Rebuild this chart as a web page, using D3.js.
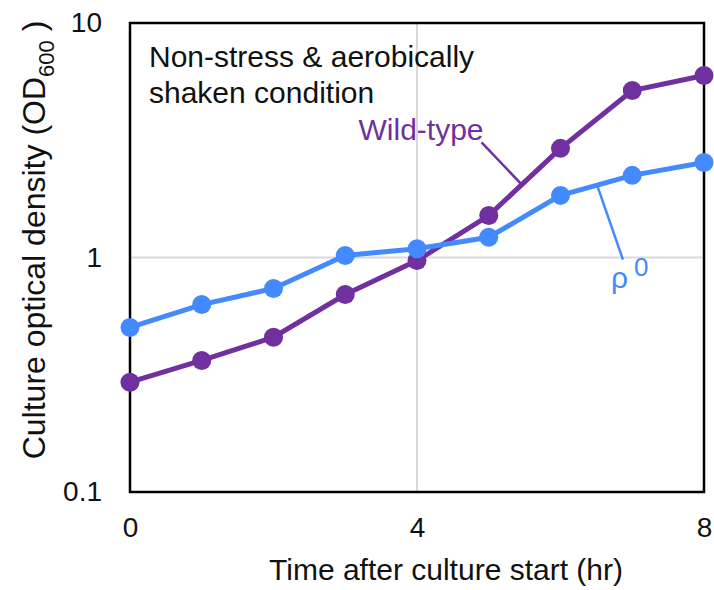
<!DOCTYPE html>
<html>
<head>
<meta charset="utf-8">
<script src="https://cdn.jsdelivr.net/npm/d3@7"></script>
<style>
  body { margin: 0; background: #fff; }
  svg text { font-family: "Liberation Sans", Arial, sans-serif; }
</style>
</head>
<body>
<svg id="chart" width="714" height="590"></svg>
<script>
// hours after culture start
var hours = [0, 1, 2, 3, 4, 5, 6, 7, 8];
// OD600
var wildType = [0.294, 0.364, 0.457, 0.695, 0.97, 1.51, 2.92, 5.15, 5.97];
var rho0 = [0.503, 0.63, 0.738, 1.02, 1.09, 1.22, 1.84, 2.24, 2.54];
var xTicks = [0, 4, 8];
var yTicks = [0.1, 1, 10];

var w = 714, h = 590;
var margin = {top: 23, right: 10, bottom: 98, left: 130};

var purple = "#7030a0";
var blue = "#448aff";
var textSize = 30;

var svg = d3.select("#chart");

var x = d3.scaleLinear().domain([0, 8]).range([margin.left, w - margin.right]);
var y = d3.scaleLog().domain([0.1, 10]).range([h - margin.bottom, margin.top]);

//grid lines at 1 and 4
svg.append("line")
    .attr("x1", x(0)).attr("x2", x(8))
    .attr("y1", y(1)).attr("y2", y(1))
    .attr("stroke", "#d9d9d9").attr("stroke-width", 2);
svg.append("line")
    .attr("x1", x(4)).attr("x2", x(4))
    .attr("y1", y(0.1)).attr("y2", y(10))
    .attr("stroke", "#d9d9d9").attr("stroke-width", 2);

//axes, labels only
var xAxis = svg.append("g")
    .attr("transform", "translate(0," + y(0.1) + ")")
    .call(d3.axisBottom(x).tickValues(xTicks).tickSize(0).tickPadding(25).tickFormat(d3.format("d")));
var yAxis = svg.append("g")
    .attr("transform", "translate(" + x(0) + ",0)")
    .call(d3.axisLeft(y).tickValues(yTicks).tickSize(0).tickPadding(28).tickFormat(function(d){ return d; }));
[xAxis, yAxis].forEach(function(a){
    a.select(".domain").remove();
    a.selectAll("text")
        .attr("font-family", "Liberation Sans, Arial, sans-serif")
        .attr("font-size", 28).attr("fill", "#111");
});

//frame
svg.append("rect")
    .attr("x", x(0)).attr("y", y(10))
    .attr("width", x(8) - x(0)).attr("height", y(0.1) - y(10))
    .attr("fill", "none").attr("stroke", "#000").attr("stroke-width", 2.5);

//series
var series = [
    {name: "Wild-type", values: wildType, color: purple},
    {name: "rho0", values: rho0, color: blue}
];
var line = d3.line()
    .x(function(d){ return x(d[0]); })
    .y(function(d){ return y(d[1]); });

series.forEach(function(s){
    var pts = hours.map(function(t, i){ return [t, s.values[i]]; });
    svg.append("path")
        .datum(pts)
        .attr("d", line)
        .attr("fill", "none")
        .attr("stroke", s.color)
        .attr("stroke-width", 5);
    svg.selectAll(null)
        .data(pts)
        .enter()
        .append("circle")
        .attr("cx", function(d){ return x(d[0]); })
        .attr("cy", function(d){ return y(d[1]); })
        .attr("r", 9.5)
        .attr("fill", s.color);
});

//leader lines
var lerp = function(vals, t){
    var i = Math.floor(t), f = t - i;
    return Math.pow(10, Math.log10(vals[i]) * (1 - f) + Math.log10(vals[i + 1]) * f);
};
svg.append("line")
    .attr("x1", x(4.9)).attr("y1", y(3.1))
    .attr("x2", x(5.46)).attr("y2", y(lerp(wildType, 5.46)))
    .attr("stroke", purple).attr("stroke-width", 2.5);
svg.append("line")
    .attr("x1", x(6.51)).attr("y1", y(lerp(rho0, 6.51)))
    .attr("x2", x(6.87)).attr("y2", y(0.98))
    .attr("stroke", blue).attr("stroke-width", 2.5);

//text labels
svg.append("text")
    .attr("x", 149).attr("y", 67)
    .attr("font-size", textSize).attr("fill", "#111")
    .text("Non-stress & aerobically");
svg.append("text")
    .attr("x", 149).attr("y", 103)
    .attr("font-size", textSize).attr("fill", "#111")
    .text("shaken condition");
svg.append("text")
    .attr("x", x(4.9) + 2).attr("y", 140)
    .attr("text-anchor", "end")
    .attr("font-size", textSize).attr("fill", purple)
    .text("Wild-type");
var rl = svg.append("text")
    .attr("x", 611).attr("y", 288)
    .attr("font-size", textSize).attr("fill", blue);
rl.append("tspan").text("ρ");
rl.append("tspan").attr("dx", 6).attr("dy", -12).attr("font-size", 26).text("0");

//axis titles
svg.append("text")
    .attr("x", 446).attr("y", 580)
    .attr("text-anchor", "middle")
    .attr("font-size", textSize).attr("fill", "#111")
    .text("Time after culture start (hr)");
var yl = svg.append("text")
    .attr("transform", "translate(45," + 240 + ") rotate(-90)")
    .attr("text-anchor", "middle")
    .attr("font-size", 32).attr("fill", "#111");
yl.append("tspan").text("Culture optical density (OD");
yl.append("tspan").attr("dy", 9).attr("font-size", 22).text("600");
yl.append("tspan").attr("dy", -9).text(" )");
</script>
</body>
</html>
